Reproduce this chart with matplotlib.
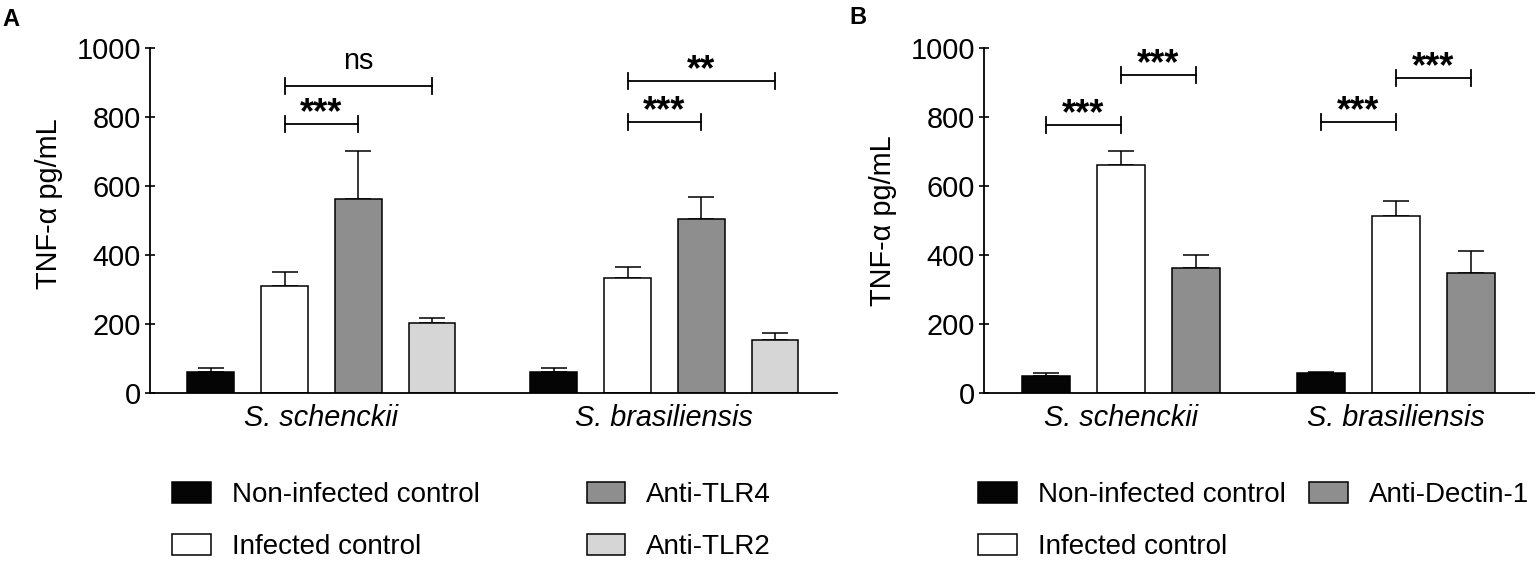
import numpy as np
import matplotlib
matplotlib.use("Agg")
import matplotlib.pyplot as plt

plt.rcParams["font.family"] = ["Liberation Sans", "DejaVu Sans"]

# ── data ──────────────────────────────────────────────────────────────────────
groups = ["S. schenckii", "S. brasiliensis"]

a_labels = ["Non-infected control", "Infected control", "Anti-TLR4", "Anti-TLR2"]
a_noninf = [62, 62]
a_inf = [310, 332]
a_tlr4 = [561, 504]
a_tlr2 = [204, 155]
a_noninf_err = [11, 11]
a_inf_err = [40, 32]
a_tlr4_err = [141, 63]
a_tlr2_err = [14, 18]
# (group, bar i, bar j, height, label)
a_sig = [(0, 1, 2, 780, "***"), (0, 1, 3, 890, "ns"),
         (1, 1, 2, 786, "***"), (1, 1, 3, 905, "**")]

b_labels = ["Non-infected control", "Infected control", "Anti-Dectin-1"]
b_noninf = [50, 58]
b_inf = [661, 514]
b_dectin = [362, 349]
b_noninf_err = [7, 4]
b_inf_err = [40, 43]
b_dectin_err = [37, 64]
b_sig = [(0, 0, 1, 778, "***"), (0, 1, 2, 923, "***"),
         (1, 0, 1, 786, "***"), (1, 1, 2, 913, "***")]

colors = ["#050505", "#ffffff", "#8e8e8e", "#d6d6d6"]
W, H = 1535, 561
FS = 20.8


def draw_panel(ax, series, errs, labels, sig, width, gap, xlim, ylab_xy):
    nser = len(series)
    handles = []
    for k, (vals, err) in enumerate(zip(series, errs)):
        x = np.arange(len(groups)) * (nser + gap) + k
        h = ax.bar(x, vals, width, color=colors[k], edgecolor="black",
                   linewidth=1.1, label=labels[k], zorder=2)
        ax.errorbar(x, vals, yerr=[np.zeros(len(err)), err], fmt="none",
                    ecolor="black", elinewidth=1.1, capsize=9.5, capthick=1.1,
                    zorder=1)
        handles.append(h)
    centers = np.arange(len(groups)) * (nser + gap) + (nser - 1) / 2
    ax.set_xticks(centers)
    ax.set_xticklabels(groups, style="italic", fontsize=FS)
    ax.tick_params(axis="x", length=0, pad=8)
    ax.set_xlim(*xlim)
    ax.set_ylim(0, 1000)
    ax.set_yticks(range(0, 1001, 200))
    ax.tick_params(axis="y", labelsize=FS, direction="inout", length=7,
                   width=1.2, pad=3)
    ax.set_ylabel("TNF-α pg/mL", fontsize=FS)
    ax.yaxis.set_label_coords(*ylab_xy)
    for s in ["top", "right"]:
        ax.spines[s].set_visible(False)
    for s in ["left", "bottom"]:
        ax.spines[s].set_linewidth(1.3)

    tick_h = 23
    for g, i, j, y, txt in sig:
        x0 = g * (nser + gap) + i
        x1 = g * (nser + gap) + j
        ax.plot([x0, x1], [y, y], color="black", lw=1.3, clip_on=False)
        for xx in (x0, x1):
            ax.plot([xx, xx], [y - tick_h, y + tick_h], color="black", lw=1.3,
                    clip_on=False)
        if txt == "ns":
            ax.text((x0 + x1) / 2, y + 50, txt, ha="center", va="baseline",
                    fontsize=FS, clip_on=False)
        else:
            ax.text((x0 + x1) / 2, y + 2, txt, ha="center", va="baseline",
                    fontsize=26, fontweight="bold", clip_on=False)
    return handles


fig = plt.figure(figsize=(W / 100, H / 100), dpi=100)

bottom = 1 - 393 / H
top = 1 - 48 / H

# panel A
axA = fig.add_axes([150 / W, bottom, (837 - 150) / W, top - bottom])
hA = draw_panel(axA, [a_noninf, a_inf, a_tlr4, a_tlr2],
                [a_noninf_err, a_inf_err, a_tlr4_err, a_tlr2_err],
                a_labels, a_sig, 0.635, 0.65, (-0.824, 8.49), (-0.126, 0.548))

# panel B
axB = fig.add_axes([984 / W, bottom, (W - 984) / W, top - bottom])
hB = draw_panel(axB, [b_noninf, b_inf, b_dectin],
                [b_noninf_err, b_inf_err, b_dectin_err],
                b_labels, b_sig, 0.65, 0.667, (-0.827, 6.52), (-0.158, 0.5))

legkw = dict(frameon=False, fontsize=20, ncol=2, handlelength=1.4,
             handleheight=0.8, handletextpad=0.75, labelspacing=0.93,
             borderpad=0, borderaxespad=0, loc="upper left")
fig.legend(handles=hA, labels=a_labels, bbox_to_anchor=(172 / W, 1 - 482 / H),
           columnspacing=3.85, **legkw)
fig.legend(handles=hB, labels=b_labels, bbox_to_anchor=(978 / W, 1 - 482 / H),
           columnspacing=0.85, **legkw)

fig.text(2 / W, 1 - 26 / H, "A", fontsize=17, fontweight="bold")
fig.text(849 / W, 1 - 24 / H, "B", fontsize=17, fontweight="bold")

fig.savefig("out.png", dpi=100)
